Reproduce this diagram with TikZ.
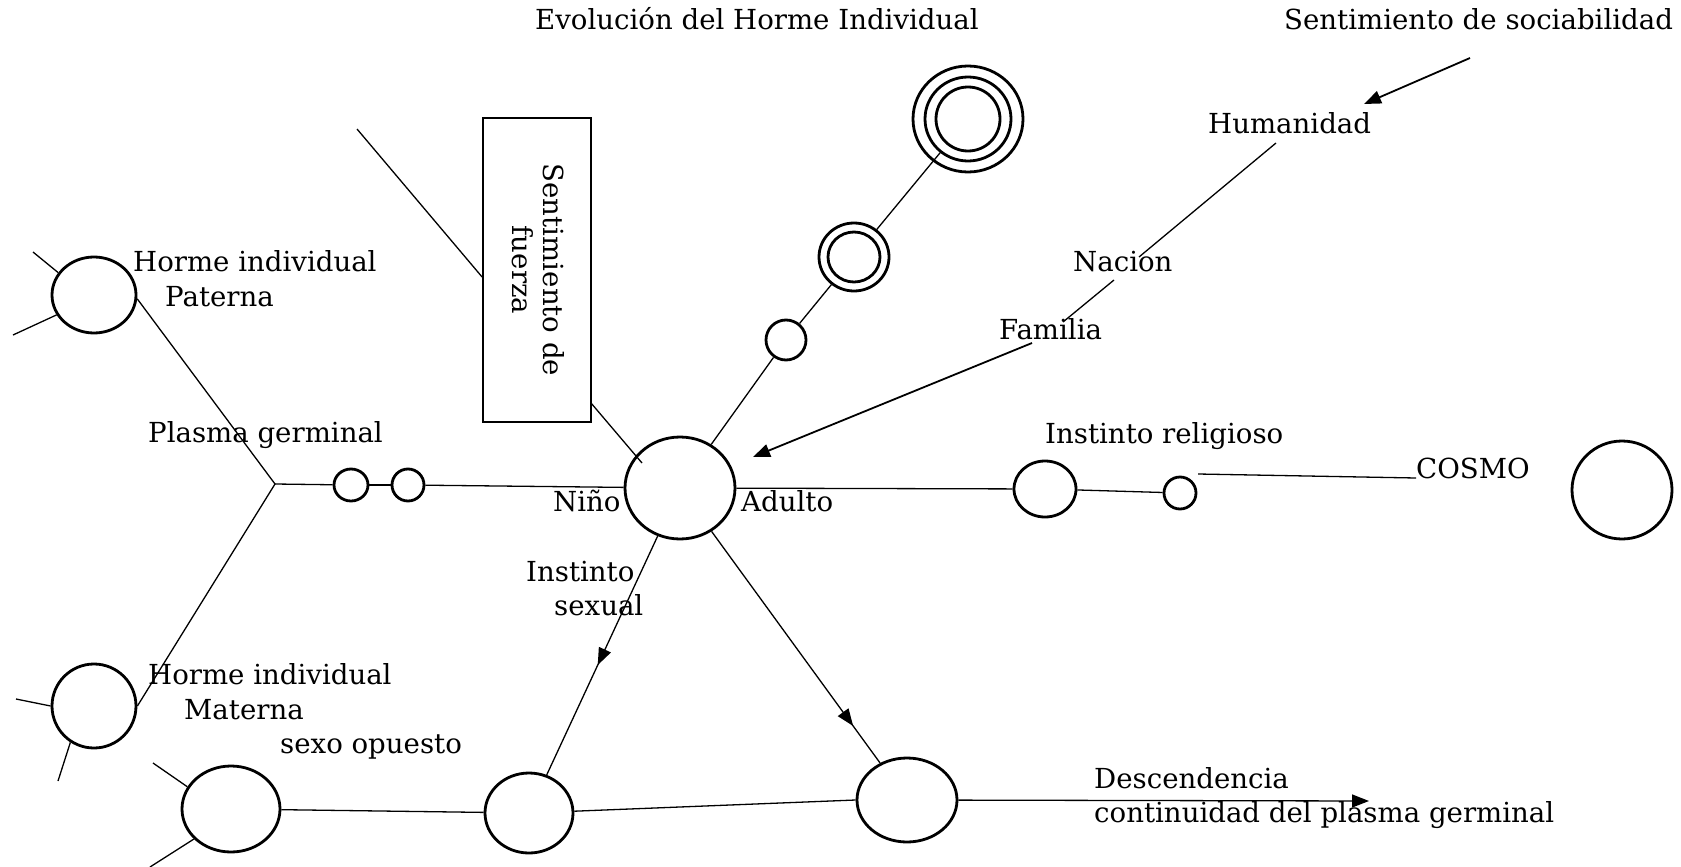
\documentclass[tikz,border=0pt]{standalone}
\usepackage{fontspec}
\setmainfont{DejaVu Serif}
\usetikzlibrary{shapes.geometric,arrows.meta,decorations.markings,calc}

\begin{document}
\begin{tikzpicture}[x=1pt,y=-1pt,
  every node/.style={inner sep=0pt},
  conn/.style={line width=1.3pt},
  bold/.style={line width=1.8pt},
  circ/.style 2 args={ellipse, draw, line width=2.8pt, minimum width=#1pt, minimum height=#2pt},
  lbl/.style={anchor=base west, font=\fontsize{27.6}{33}\selectfont},
  tip/.style={-{Triangle[length=17pt,width=13pt]}},
  midtip/.style={postaction={decorate}, decoration={markings, mark=at position #1 with {\arrow{Triangle[length=17pt,width=13pt]}}}},
]
\useasboundingbox (0,0) rectangle (1681,867);

% circles
\node[circ={84}{76}] (pat) at (94,295) {};
\node[circ={84}{84}] (mat) at (94,706) {};
\node[circ={98}{86}] (sex) at (231,809) {};
\node[circ={34}{32}] (g1) at (351,485) {};
\node[circ={32}{32}] (g2) at (408,485) {};
\node[circ={110}{102}] (main) at (680,488) {};
\node[circ={40}{40}] (u1) at (786,340) {};
\node[circ={70}{68}] (u2) at (854,257) {};
\node[circ={52}{50}] (u2in) at (854,257) {};
\node[circ={110}{106}] (u3) at (968,119) {};
\node[circ={86}{84}] (u3mid) at (968,119) {};
\node[circ={64}{64}] (u3in) at (968,119) {};
\node[circ={88}{80}] (c3) at (529,813) {};
\node[circ={100}{84}] (c4) at (907,800) {};
\node[circ={62}{56}] (r1) at (1045,489) {};
\node[circ={32}{32}] (r2) at (1180,493) {};
\node[circ={100}{98}] (cosmo) at (1622,490) {};

% box
\node[draw, line width=1.8pt, minimum width=108pt, minimum height=304pt] (fuerza) at (537,270) {};
\node[rotate=-90, align=center, font=\fontsize{27.6}{31}\selectfont] (fuerzatxt) at (538,270) {Sentimiento de\\fuerza};

% labels
\node[lbl] (title) at (535,30) {Evolución del Horme Individual};
\node[lbl] (soc) at (1284,30) {Sentimiento de sociabilidad};
\node[lbl] (hum) at (1208,133) {Humanidad};
\node[lbl] (nac) at (1073,271) {Nacion};
\node[lbl] (famtxt) at (999,339) {Familia};
\node[lbl] (hp1) at (133,271) {Horme individual};
\node[lbl] (hp2) at (165,306) {Paterna};
\node[lbl] (plasma) at (148,442) {Plasma germinal};
\node[lbl] (hm1) at (148,684) {Horme individual};
\node[lbl] (hm2) at (184,719) {Materna};
\node[lbl] (sexo) at (280,753) {sexo opuesto};
\node[lbl] (nino) at (553,511) {Niño};
\node[lbl] (adulto) at (741,511) {Adulto};
\node[lbl] (inst1) at (526,581) {Instinto};
\node[lbl] (inst2) at (554,615) {sexual};
\node[lbl] (relig) at (1045,443) {Instinto religioso};
\node[lbl] (cosmotxt) at (1416,478) {COSMO};
\node[lbl] (desc1) at (1094,788) {Descendencia};
\node[lbl] (desc2) at (1094,822) {continuidad del plasma germinal};

% free ends
\coordinate (J) at (275,484);
\coordinate (ps1) at (33,252);
\coordinate (ps2) at (13,335);
\coordinate (ms1) at (16,699);
\coordinate (ms2) at (58,781);
\coordinate (ss1) at (153,763);
\coordinate (ss2) at (150,867);
\coordinate (fz0) at (357,129);
\coordinate (fz1) at (591,403);
\coordinate (fz2) at (642,463);
\coordinate (rc0) at (1198,474);
\coordinate (descend) at (1369,801);
\coordinate (fam0) at (1032,343);
\coordinate (famtip) at (753,457);
\coordinate (hum0) at (1276,143);
\coordinate (hum1) at (1139,257);
\coordinate (nac0) at (1114,280);
\coordinate (nac1) at (1063,322);
\coordinate (soc0) at (1470,58);
\coordinate (soc1) at (1364,104);

% connectors
\draw[conn] (ps1) -- (pat.148);
\draw[conn] (ps2) -- (pat.208);
\draw[conn] (ms1) -- (mat.west);
\draw[conn] (ms2) -- (mat.237);
\draw[conn] (ss1) -- (sex.153);
\draw[conn] (ss2) -- (sex.219);
\draw[conn] (pat.-5) -- (J) -- (mat.east);
\draw[conn] (J) -- (g1);
\draw[conn] (g1) -- (g2);
\draw[conn] (g2) -- (main);
\draw[conn] (main) -- (r1);
\draw[conn] (r1) -- (r2);
\draw[conn] (rc0) -- (cosmotxt.base west);
\draw[conn] (main) -- (u1);
\draw[conn] (u1) -- (u2);
\draw[conn] (u2) -- (u3mid);
\draw[conn] (fz0) -- ([yshift=-7pt]fuerza.west);
\draw[conn] (fz1) -- (fz2);
\draw[conn, midtip=0.54] (main) -- (c3);
\draw[conn, midtip=0.84] (main) -- (c4);
\draw[conn] (sex) -- (c3);
\draw[conn] (c3) -- (c4.west);
\draw[conn, tip] (c4) -- (descend);
\draw[bold, tip] (fam0) -- (famtip);
\draw[conn] (hum0) -- (hum1);
\draw[conn] (nac0) -- (nac1);
\draw[bold, tip] (soc0) -- (soc1);
\end{tikzpicture}
\end{document}
